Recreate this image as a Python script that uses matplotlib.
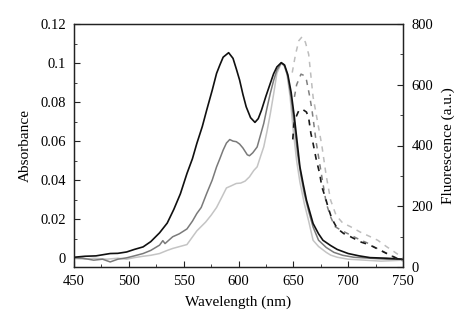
import matplotlib
matplotlib.use("Agg")
import matplotlib.pyplot as plt
from matplotlib.ticker import MultipleLocator, FuncFormatter

plt.rcParams["font.family"] = ["Liberation Serif", "DejaVu Serif"]

# absorbance spectra (left axis)
abs_black_wl = [450, 460, 470, 483, 490, 498, 505, 513, 520, 528, 535, 541, 547, 553, 558,
                562, 567, 571, 576, 580, 583, 586, 591, 595, 598, 601, 604, 607, 611, 615,
                618, 621, 625, 629, 632, 635, 639, 642, 645, 648, 651, 656, 659, 662, 668,
                673, 677, 684, 690, 700, 710, 720, 735, 750]
abs_black = [0.0005, 0.0010, 0.0012, 0.0024, 0.0025, 0.0032, 0.0045, 0.0058, 0.0085, 0.0130,
             0.0180, 0.0250, 0.0330, 0.0434, 0.0510, 0.0588, 0.0675, 0.0759, 0.0860, 0.0947,
             0.0990, 0.1030, 0.1053, 0.1024, 0.0970, 0.0913, 0.0840, 0.0776, 0.0720, 0.0696,
             0.0715, 0.0759, 0.0830, 0.0896, 0.0945, 0.0980, 0.1002, 0.0990, 0.0940, 0.0850,
             0.0720, 0.0468, 0.0380, 0.0297, 0.0178, 0.0125, 0.0092, 0.0065, 0.0045, 0.0024,
             0.0012, 0.0003, 0.0000, -0.0005]

abs_gray_wl = [450, 458, 468, 476, 483, 490, 498, 505, 513, 520, 528, 531, 533, 540, 546,
               553, 558, 562, 566, 571, 576, 580, 583, 586, 589, 592, 595, 598, 601, 604,
               608, 610, 613, 617, 620, 623, 626, 629, 632, 635, 639, 642, 645, 648, 651,
               654, 657, 660, 664, 668, 673, 680, 687, 695, 705, 720, 735, 750]
abs_gray = [0.0002, 0.0000, -0.0010, -0.0005, -0.0019, -0.0005, 0.0002, 0.0012, 0.0024, 0.0040,
            0.0067, 0.0090, 0.0075, 0.0110, 0.0125, 0.0150, 0.0190, 0.0229, 0.0260, 0.0332,
            0.0400, 0.0468, 0.0510, 0.0554, 0.0590, 0.0608, 0.0600, 0.0597, 0.0585, 0.0565,
            0.0530, 0.0525, 0.0540, 0.0570, 0.0630, 0.0690, 0.0770, 0.0845, 0.0910, 0.0964,
            0.1000, 0.0985, 0.0930, 0.0820, 0.0680, 0.0530, 0.0420, 0.0330, 0.0240, 0.0160,
            0.0092, 0.0055, 0.0030, 0.0015, 0.0005, 0.0000, -0.0005, -0.0005]

abs_light_wl = [450, 460, 468, 480, 490, 498, 505, 513, 520, 528, 535, 540, 553, 562, 570,
                575, 580, 585, 589, 593, 598, 602, 606, 610, 614, 617, 620, 623, 626, 629,
                632, 635, 639, 641, 644, 647, 650, 653, 656, 660, 664, 668, 673, 680, 684,
                690, 700, 715, 730, 750]
abs_light = [0.0000, -0.0005, 0.0000, -0.0005, 0.0000, -0.0005, 0.0003, 0.0010, 0.0015, 0.0024,
             0.0040, 0.0050, 0.0070, 0.0140, 0.0185, 0.0220, 0.0260, 0.0315, 0.0360, 0.0370,
             0.0383, 0.0385, 0.0395, 0.0417, 0.0450, 0.0468, 0.0520, 0.0570, 0.0650, 0.0740,
             0.0840, 0.0947, 0.1000, 0.0995, 0.0950, 0.0830, 0.0650, 0.0500, 0.0390, 0.0280,
             0.0190, 0.0092, 0.0060, 0.0030, 0.0016, 0.0005, -0.0005, -0.0010, -0.0015, -0.0010]

# fluorescence spectra (right axis)
fl_black_wl = [649.5, 650.5, 652, 655, 658, 662, 664, 666, 668, 671, 674, 676, 679, 682, 685,
               690, 696, 702, 711, 720, 732, 744, 750]
fl_black = [420, 470, 490, 515, 520, 510, 490, 440, 407, 352, 308, 264, 231, 193, 160,
            127, 110, 100, 83, 72, 50, 29, 20]

fl_gray_wl = [651, 653, 657, 660, 662, 665, 667, 671, 676, 680, 684, 688, 694, 699, 705,
              711, 717, 723, 730, 738, 750]
fl_gray = [560, 600, 635, 630, 615, 560, 517, 407, 297, 210, 165, 133, 120, 111, 100,
           89, 80, 67, 55, 39, 20]

fl_light_wl = [649, 652, 655, 658, 661, 664, 668, 672, 676, 680, 684, 689, 695, 702, 711,
               720, 727, 735, 742, 748, 750]
fl_light = [640, 700, 745, 758, 740, 700, 560, 480, 400, 300, 220, 170, 145, 133, 115,
            100, 88, 67, 50, 35, 30]

x_ticks = [450, 500, 550, 600, 650, 700, 750]

fig = plt.figure(figsize=(4.74, 3.30), dpi=100)
ax = fig.add_axes([74 / 474, 1 - 267 / 330, 329 / 474, 243 / 330])
ax2 = ax.twinx()

ax.plot(abs_light_wl, abs_light, color="#c4c4c4", lw=1.1)
ax.plot(abs_gray_wl, abs_gray, color="#7a7a7a", lw=1.1)
ax.plot(abs_black_wl, abs_black, color="#101010", lw=1.2)

dash = (0, (3.5, 3.5))
ax2.plot(fl_light_wl, fl_light, color="#bdbdbd", lw=1.1, linestyle=dash)
ax2.plot(fl_gray_wl, fl_gray, color="#808080", lw=1.1, linestyle=dash)
ax2.plot(fl_black_wl, fl_black, color="#1a1a1a", lw=1.2, linestyle=dash)

ax.set_xlim(450, 750)
ax.set_ylim(-0.0045, 0.12)
ax2.set_ylim(0, 800)

ax.set_xticks(x_ticks)
ax.xaxis.set_minor_locator(MultipleLocator(25))
ax.set_yticks([0, 0.02, 0.04, 0.06, 0.08, 0.1, 0.12])
ax.yaxis.set_minor_locator(MultipleLocator(0.01))
ax.yaxis.set_major_formatter(FuncFormatter(lambda v, p: f"{v:g}"))
ax2.set_yticks([0, 200, 400, 600, 800])
ax2.yaxis.set_minor_locator(MultipleLocator(100))

for a in (ax, ax2):
    a.tick_params(which="both", direction="in", labelsize=10.5, color="#222222")
    a.tick_params(which="major", length=4, pad=6)
    a.tick_params(which="minor", length=2.5)
    for s in a.spines.values():
        s.set_linewidth(0.9)
        s.set_color("#222222")
ax.tick_params(axis="x", top=False, which="both")

ax.set_xlabel("Wavelength (nm)", fontsize=11, labelpad=5)
ax.set_ylabel("Absorbance", fontsize=11, labelpad=6)
ax2.set_ylabel("Fluorescence (a.u.)", fontsize=11, labelpad=6)

fig.savefig("out.png", dpi=100)
